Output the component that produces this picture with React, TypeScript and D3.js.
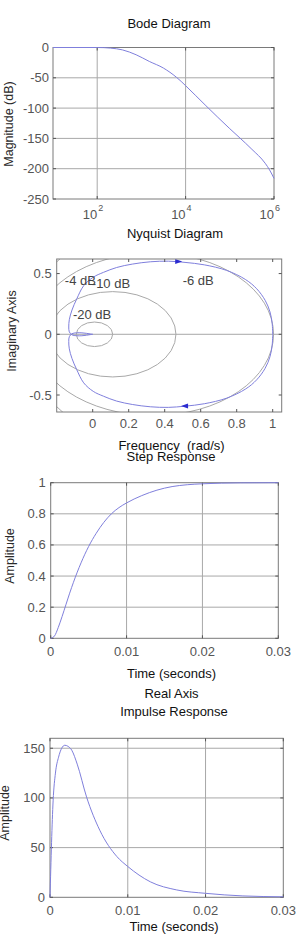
import * as d3 from "d3";

const FONT = "'Liberation Sans', Arial, sans-serif";
const LINE = "#7f7fdc";
const ARROW = "#2b2bd0";
const GRID = "#a8a8a8";
const FRAME = "#7a7a7a";
const TICK_TXT = "#555";
const LABEL_TXT = "#2a2a2a";

// Bode magnitude (rad/s, dB)
const bodeFreq = [10, 100, 200, 376, 760, 1510, 3160, 6170, 7940, 10000, 28800, 100000, 162000, 316000, 631000, 794000, 1000000];
const bodeMag = [0, 0, -1, -4, -12, -23, -34, -49, -56, -63, -96, -134, -148, -168, -191, -202, -216];
const bodeYTicks = [0, -50, -100, -150, -200, -250];
const bodeXExp = [2, 4, 6];

// Nyquist, positive-frequency branch (the other one is its mirror image)
const nyqRe = [1.0, 0.997, 0.985, 0.958, 0.911, 0.85, 0.744, 0.62, 0.513, 0.42, 0.32, 0.22, 0.133, 0.06, 0.003, -0.05, -0.089, -0.115, -0.13, -0.133, -0.13, -0.115, -0.09, -0.06, -0.035, -0.015, 0];
const nyqIm = [0, -0.09, -0.184, -0.28, -0.375, -0.45, -0.526, -0.572, -0.592, -0.602, -0.597, -0.578, -0.55, -0.51, -0.47, -0.4, -0.29, -0.2, -0.12, -0.06, -0.02, 0.005, 0.012, 0.012, 0.008, 0.003, 0];
const nyqXTicks = [0, 0.2, 0.4, 0.6, 0.8, 1];
const nyqYTicks = [-0.5, 0, 0.5];
const mCircleDb = [-20, -10, -6, -4];
const mLabelText = ["-4 dB", "-10 dB", "-6 dB", "-20 dB"];
const mLabelRe = [-0.155, -0.005, 0.5, -0.11];
const mLabelIm = [0.445, 0.42, 0.445, 0.16];
const arrowRe = [0.513, 0.475];
const arrowIm = [-0.59, 0.6];

// Step response
const stepT = [0, 0.0005, 0.001, 0.0015, 0.002, 0.0025, 0.003, 0.0035, 0.004, 0.005, 0.006, 0.007, 0.008, 0.009, 0.01, 0.012, 0.014, 0.016, 0.018, 0.02, 0.025, 0.03];
const stepY = [0, 0.015, 0.07, 0.14, 0.215, 0.29, 0.36, 0.425, 0.485, 0.59, 0.675, 0.745, 0.8, 0.84, 0.87, 0.917, 0.952, 0.975, 0.987, 0.993, 0.999, 1.0];
const stepYTicks = [0, 0.2, 0.4, 0.6, 0.8, 1];
const timeTicks = [0, 0.01, 0.02, 0.03];

// Impulse response
const impT = [0, 0.0004, 0.0007, 0.0011, 0.0015, 0.0019, 0.0023, 0.0028, 0.0035, 0.0047, 0.0064, 0.0086, 0.01, 0.0129, 0.0163, 0.02, 0.0248, 0.03];
const impY = [0, 97, 125, 141, 150, 153, 152, 148, 134, 101, 67.5, 41, 31, 15.6, 7.4, 4, 1.4, 0.5];
const impYTicks = [0, 50, 100, 150];

type Box = { l: number; r: number; t: number; b: number };

function Frame({ box, xt, yt }: { box: Box; xt: number[]; yt: number[] }) {
  return (
    <g>
      <rect x={box.l} y={box.t} width={box.r - box.l} height={box.b - box.t} fill="none" stroke={FRAME} />
      {xt.map((x, i) => (
        <g key={"x" + i} stroke="#555">
          <line x1={x} x2={x} y1={box.b} y2={box.b - 3} />
          <line x1={x} x2={x} y1={box.t} y2={box.t + 3} />
        </g>
      ))}
      {yt.map((y, i) => (
        <g key={"y" + i} stroke="#555">
          <line x1={box.l} x2={box.l + 3} y1={y} y2={y} />
          <line x1={box.r} x2={box.r - 3} y1={y} y2={y} />
        </g>
      ))}
    </g>
  );
}

function Title({ x, y, text }: { x: number; y: number; text: string }) {
  return (
    <text x={x} y={y} textAnchor="middle" fontSize={13} fill="#111" style={{ whiteSpace: "pre" }}>
      {text}
    </text>
  );
}

function YLabel({ x, y, text }: { x: number; y: number; text: string }) {
  return (
    <text transform={`translate(${x},${y}) rotate(-90)`} textAnchor="middle" fontSize={12.5} fill={LABEL_TXT}>
      {text}
    </text>
  );
}

export default function App() {
  // Bode
  const bB: Box = { l: 53, r: 274, t: 47.5, b: 199 };
  const bx = d3.scaleLog().domain([10, 1e6]).range([bB.l, bB.r]);
  const by = d3.scaleLinear().domain([-250, 0]).range([bB.b, bB.t]);
  const bodeLine = d3
    .line<number>()
    .x((_d, i) => bx(bodeFreq[i]))
    .y((d) => by(d))
    .curve(d3.curveMonotoneX)(bodeMag);

  // Nyquist
  const nB: Box = { l: 56.7, r: 281.7, t: 259, b: 412 };
  const nx = d3.scaleLinear().domain([-0.2, 1.05]).range([nB.l, nB.r]);
  const ny = d3.scaleLinear().domain([-0.64, 0.62]).range([nB.b, nB.t]);
  const posBranch = nyqRe.map((re, i) => [re, nyqIm[i]] as [number, number]);
  const negBranch = posBranch.map(([re, im]) => [re, -im] as [number, number]);
  const nyqGen = d3
    .line<[number, number]>()
    .x((d) => nx(d[0]))
    .y((d) => ny(d[1]))
    .curve(d3.curveCatmullRom);
  const kx = nx(1) - nx(0);
  const ky = ny(0) - ny(1);

  // Step
  const sB: Box = { l: 50.7, r: 278.3, t: 482.7, b: 638.3 };
  const sx = d3.scaleLinear().domain([0, 0.03]).range([sB.l, sB.r]);
  const sy = d3.scaleLinear().domain([0, 1]).range([sB.b, sB.t]);
  const stepLine = d3
    .line<number>()
    .x((_d, i) => sx(stepT[i]))
    .y((d) => sy(d))
    .curve(d3.curveMonotoneX)(stepY);

  // Impulse
  const iB: Box = { l: 50, r: 283.3, t: 738.3, b: 897.3 };
  const ix = d3.scaleLinear().domain([0, 0.03]).range([iB.l, iB.r]);
  const iy = d3.scaleLinear().domain([0, 160]).range([iB.b, iB.t]);
  const impLine = d3
    .line<number>()
    .x((_d, i) => ix(impT[i]))
    .y((d) => iy(d))
    .curve(d3.curveMonotoneX)(impY);

  const fmtT = (v: number) => (v === 0 ? "0" : d3.format(".2f")(v));

  return (
    <div style={{ position: "absolute", left: 0, top: 0, width: 297, height: 944, background: "#fff" }}>
      <svg width={297} height={944} fontFamily={FONT}>
        <defs>
          <clipPath id="nyqClip">
            <rect x={nB.l} y={nB.t} width={nB.r - nB.l} height={nB.b - nB.t} />
          </clipPath>
        </defs>

        {/* ---------- Bode ---------- */}
        <Title x={169} y={27.5} text="Bode Diagram" />
        <YLabel x={12.5} y={124} text="Magnitude (dB)" />
        {bodeXExp.slice(0, 2).map((e) => (
          <line key={e} x1={bx(10 ** e)} x2={bx(10 ** e)} y1={bB.t} y2={bB.b} stroke={GRID} />
        ))}
        {bodeYTicks.slice(1, -1).map((v) => (
          <line key={v} x1={bB.l} x2={bB.r} y1={by(v)} y2={by(v)} stroke={GRID} />
        ))}
        <Frame box={bB} xt={bodeXExp.map((e) => bx(10 ** e))} yt={bodeYTicks.map((v) => by(v))} />
        <path d={bodeLine ?? ""} fill="none" stroke={LINE} strokeWidth={1} />
        {bodeYTicks.map((v) => (
          <text key={v} x={bB.l - 4} y={by(v) + 4.5} textAnchor="end" fontSize={13} fill={TICK_TXT}>
            {v}
          </text>
        ))}
        {bodeXExp.map((e) => (
          <g key={e} fill={TICK_TXT}>
            <text x={bx(10 ** e)} y={219} textAnchor="end" fontSize={13}>
              10
            </text>
            <text x={bx(10 ** e) + 1} y={211} fontSize={9}>
              {e}
            </text>
          </g>
        ))}

        {/* ---------- Nyquist ---------- */}
        <Title x={175} y={238} text="Nyquist Diagram" />
        <YLabel x={16} y={331} text="Imaginary Axis" />
        <g clipPath="url(#nyqClip)">
          <line x1={nB.l} x2={nB.r} y1={ny(0)} y2={ny(0)} stroke={GRID} />
          {mCircleDb.map((db) => {
            const m = 10 ** (db / 20);
            const c = (m * m) / (1 - m * m);
            const r = m / (1 - m * m);
            return (
              <ellipse key={db} cx={nx(c)} cy={ny(0)} rx={r * kx} ry={r * ky} fill="none" stroke={GRID} />
            );
          })}
          <path d={nyqGen(posBranch) ?? ""} fill="none" stroke={LINE} />
          <path d={nyqGen(negBranch) ?? ""} fill="none" stroke={LINE} />
        </g>
        {arrowRe.map((re, i) => {
          const x = nx(re);
          const y = ny(arrowIm[i]);
          const dir = arrowIm[i] < 0 ? -1 : 1;
          return (
            <path
              key={i}
              d={`M${x + dir * 4},${y} L${x - dir * 3},${y - 2.5} L${x - dir * 3},${y + 2.5} Z`}
              fill={ARROW}
            />
          );
        })}
        <Frame box={nB} xt={nyqXTicks.map((v) => nx(v))} yt={nyqYTicks.map((v) => ny(v))} />
        {mLabelText.map((t, i) => (
          <text key={t} x={nx(mLabelRe[i])} y={ny(mLabelIm[i]) + 4.5} fontSize={13} fill="#444">
            {t}
          </text>
        ))}
        {nyqYTicks.map((v) => (
          <text key={v} x={nB.l - 5} y={ny(v) + 4.5} textAnchor="end" fontSize={13} fill={TICK_TXT}>
            {v}
          </text>
        ))}
        {nyqXTicks.map((v) => (
          <text key={v} x={nx(v)} y={428} textAnchor="middle" fontSize={13} fill={TICK_TXT}>
            {v}
          </text>
        ))}
        <Title x={171.5} y={449.5} text="Frequency  (rad/s)" />

        {/* ---------- Step ---------- */}
        <Title x={171} y={461} text="Step Response" />
        <YLabel x={13.5} y={556} text="Amplitude" />
        {timeTicks.slice(1, -1).map((v) => (
          <line key={v} x1={sx(v)} x2={sx(v)} y1={sB.t} y2={sB.b} stroke={GRID} />
        ))}
        {stepYTicks.slice(1, -1).map((v) => (
          <line key={v} x1={sB.l} x2={sB.r} y1={sy(v)} y2={sy(v)} stroke={GRID} />
        ))}
        <Frame box={sB} xt={timeTicks.map((v) => sx(v))} yt={stepYTicks.map((v) => sy(v))} />
        <path d={stepLine ?? ""} fill="none" stroke={LINE} />
        {stepYTicks.map((v) => (
          <text key={v} x={sB.l - 5} y={sy(v) + 4.5} textAnchor="end" fontSize={13} fill={TICK_TXT}>
            {v}
          </text>
        ))}
        {timeTicks.map((v) => (
          <text key={v} x={sx(v)} y={656} textAnchor="middle" fontSize={13} fill={TICK_TXT}>
            {fmtT(v)}
          </text>
        ))}
        <Title x={171.5} y={678} text="Time (seconds)" />
        <Title x={171.5} y={698} text="Real Axis" />

        {/* ---------- Impulse ---------- */}
        <Title x={174} y={716} text="Impulse Response" />
        <YLabel x={9} y={813} text="Amplitude" />
        {timeTicks.slice(1, -1).map((v) => (
          <line key={v} x1={ix(v)} x2={ix(v)} y1={iB.t} y2={iB.b} stroke={GRID} />
        ))}
        {impYTicks.slice(1).map((v) => (
          <line key={v} x1={iB.l} x2={iB.r} y1={iy(v)} y2={iy(v)} stroke={GRID} />
        ))}
        <Frame box={iB} xt={timeTicks.map((v) => ix(v))} yt={impYTicks.map((v) => iy(v))} />
        <path d={impLine ?? ""} fill="none" stroke={LINE} />
        {impYTicks.map((v) => (
          <text key={v} x={iB.l - 5} y={iy(v) + 4.5} textAnchor="end" fontSize={13} fill={TICK_TXT}>
            {v}
          </text>
        ))}
        {timeTicks.map((v) => (
          <text key={v} x={ix(v)} y={914.5} textAnchor="middle" fontSize={13} fill={TICK_TXT}>
            {fmtT(v)}
          </text>
        ))}
        <Title x={174} y={931} text="Time (seconds)" />
      </svg>
    </div>
  );
}
